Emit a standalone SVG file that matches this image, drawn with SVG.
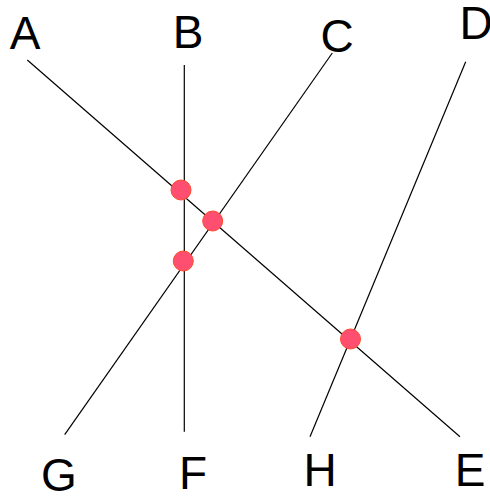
<svg xmlns="http://www.w3.org/2000/svg" width="490" height="497" viewBox="0 0 490 497">
<style>
.lbl{font-family:"Liberation Sans",Arial,sans-serif;font-size:46px;fill:#000;text-anchor:middle}
.ln{stroke:#000;stroke-width:1.2;fill:none}
.pt{fill:#ff4f70;stroke:#ff4a2a;stroke-width:1}
</style>
<rect width="490" height="497" fill="#fff"/>
<g id="connectors">
<line class="ln" x1="27.3" y1="60" x2="460" y2="436.7"/>
<line class="ln" x1="184.3" y1="65" x2="184.3" y2="431.7"/>
<line class="ln" x1="332.3" y1="53" x2="64.7" y2="434.7"/>
<line class="ln" x1="465.7" y1="61.7" x2="310" y2="436.7"/>
</g>
<g id="A"><text class="lbl" x="25" y="49">A</text></g>
<g id="B"><text class="lbl" x="188" y="48">B</text></g>
<g id="C"><text class="lbl" x="337" y="52">C</text></g>
<g id="D"><text class="lbl" x="476" y="39">D</text></g>
<g id="G"><text class="lbl" x="59" y="491">G</text></g>
<g id="F"><text class="lbl" x="193" y="489">F</text></g>
<g id="H"><text class="lbl" x="320" y="486">H</text></g>
<g id="E"><text class="lbl" x="470" y="486">E</text></g>
<g id="p1"><circle class="pt" cx="181" cy="190" r="10"/></g>
<g id="p2"><circle class="pt" cx="212.7" cy="221" r="10"/></g>
<g id="p3"><circle class="pt" cx="183.3" cy="261" r="10"/></g>
<g id="p4"><circle class="pt" cx="350.5" cy="339" r="10"/></g>
</svg>
